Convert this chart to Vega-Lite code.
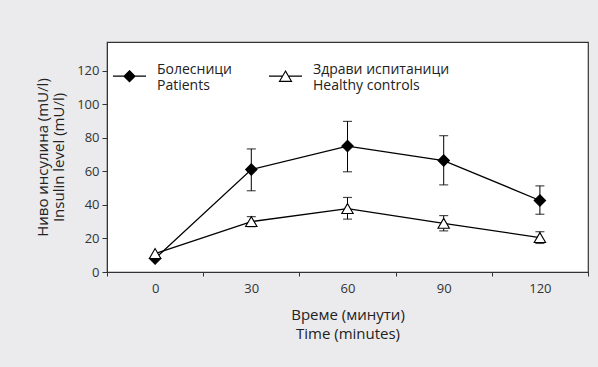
{
  "$schema": "https://vega.github.io/schema/vega-lite/v6.json",
  "width": 481,
  "height": 230,
  "autosize": {"type": "none"},
  "padding": {"left": 107, "top": 42, "right": 10, "bottom": 95},
  "background": "#ebebed",
  "config": {
    "font": "Open Sans",
    "view": {"fill": "white", "stroke": "#333", "strokeWidth": 1.2},
    "axisY": {
      "tickSize": 5,
      "tickColor": "#333",
      "domainColor": "#333",
      "labelPadding": 3,
      "labelFontSize": 13,
      "labelColor": "#333",
      "titleFontSize": 15,
      "titleFontWeight": "normal",
      "titleColor": "#222",
      "titlePadding": 10,
      "titleLineHeight": 16,
      "grid": false
    },
    "legend": {
      "orient": "none",
      "legendX": 5,
      "legendY": 10,
      "direction": "horizontal",
      "padding": 0,
      "symbolSize": 1089,
      "symbolStrokeWidth": 1.2,
      "symbolOpacity": 1,
      "labelFontSize": 14,
      "labelColor": "#222",
      "labelLineHeight": 16,
      "labelOffset": 10,
      "columnPadding": 34,
      "labelLimit": 300
    }
  },
  "data": {
    "values": [
      {"group": "Patients", "time": 0, "mean": 8, "lo": null, "hi": null},
      {"group": "Patients", "time": 30, "mean": 61, "lo": 48.4, "hi": 73.3},
      {"group": "Patients", "time": 60, "mean": 75, "lo": 59.7, "hi": 89.7},
      {"group": "Patients", "time": 90, "mean": 66.4, "lo": 51.9, "hi": 81.2},
      {"group": "Patients", "time": 120, "mean": 42.6, "lo": 34.4, "hi": 51.3},
      {"group": "Controls", "time": 0, "mean": 11, "lo": null, "hi": null},
      {"group": "Controls", "time": 30, "mean": 30, "lo": 27, "hi": 33},
      {"group": "Controls", "time": 60, "mean": 37.8, "lo": 31.5, "hi": 44.4},
      {"group": "Controls", "time": 90, "mean": 29, "lo": 24.5, "hi": 33.6},
      {"group": "Controls", "time": 120, "mean": 20.5, "lo": 17, "hi": 24}
    ]
  },
  "encoding": {
    "x": {
      "field": "time",
      "type": "ordinal",
      "scale": {"type": "band", "domain": [0, 30, 60, 90, 120], "paddingInner": 0, "paddingOuter": 0},
      "axis": {
        "title": ["Време (минути)", "Time (minutes)"],
        "labelAngle": 0,
        "tickBand": "extent",
        "tickSize": 4,
        "tickColor": "#333",
        "domainColor": "#333",
        "labelFontSize": 13,
        "labelColor": "#333",
        "labelPadding": 6,
        "titleFontSize": 15,
        "titleFontWeight": "normal",
        "titleColor": "#222",
        "titlePadding": 12,
        "titleLineHeight": 19,
        "grid": false
      }
    }
  },
  "resolve": {"scale": {"shape": "independent", "fill": "independent", "stroke": "independent"}},
  "layer": [
    {
      "mark": {"type": "line", "color": "black", "strokeWidth": 1.3},
      "encoding": {
        "y": {
          "field": "mean",
          "type": "quantitative",
          "scale": {"domain": [0, 137], "nice": false},
          "axis": {"title": ["Ниво инсулина (mU/l)", "Insulin level (mU/l)"], "values": [0, 20, 40, 60, 80, 100, 120], "labelOverlap": false}
        },
        "detail": {"field": "group"}
      }
    },
    {
      "mark": {"type": "rule", "color": "black", "strokeWidth": 1},
      "encoding": {
        "y": {"field": "lo", "type": "quantitative", "axis": {"title": ["Ниво инсулина (mU/l)", "Insulin level (mU/l)"], "values": [0, 20, 40, 60, 80, 100, 120], "labelOverlap": false}},
        "y2": {"field": "hi"}
      }
    },
    {
      "mark": {"type": "tick", "color": "black", "size": 9, "thickness": 1.2},
      "encoding": {
        "y": {"field": "lo", "type": "quantitative", "axis": {"title": ["Ниво инсулина (mU/l)", "Insulin level (mU/l)"], "values": [0, 20, 40, 60, 80, 100, 120], "labelOverlap": false}}
      }
    },
    {
      "mark": {"type": "tick", "color": "black", "size": 9, "thickness": 1.2},
      "encoding": {
        "y": {"field": "hi", "type": "quantitative", "axis": {"title": ["Ниво инсулина (mU/l)", "Insulin level (mU/l)"], "values": [0, 20, 40, 60, 80, 100, 120], "labelOverlap": false}}
      }
    },
    {
      "mark": {"type": "point", "filled": true, "size": 130, "stroke": "black", "strokeWidth": 1.1, "opacity": 1},
      "encoding": {
        "y": {"field": "mean", "type": "quantitative", "axis": {"title": ["Ниво инсулина (mU/l)", "Insulin level (mU/l)"], "values": [0, 20, 40, 60, 80, 100, 120], "labelOverlap": false}},
        "shape": {
          "field": "group",
          "type": "nominal",
          "scale": {"domain": ["Patients", "Controls"], "range": ["diamond", "triangle-up"]},
          "legend": null
        },
        "fill": {
          "field": "group",
          "type": "nominal",
          "scale": {"domain": ["Patients", "Controls"], "range": ["black", "white"]},
          "legend": null
        }
      }
    },
    {
      "mark": {"type": "point", "filled": true, "size": 130, "opacity": 0},
      "encoding": {
        "y": {"field": "mean", "type": "quantitative", "axis": {"title": ["Ниво инсулина (mU/l)", "Insulin level (mU/l)"], "values": [0, 20, 40, 60, 80, 100, 120], "labelOverlap": false}},
        "shape": {
          "field": "group",
          "type": "nominal",
          "scale": {"domain": ["Patients", "Controls"], "range": ["M-1,0.39H1M0,0.06L0.33,0.39L0,0.72L-0.33,0.39Z", "M-1,0.39H-0.18M0.18,0.39H1M0,0.08L0.36,0.7L-0.36,0.7Z"]},
          "legend": {"title": null, "labelExpr": "datum.value == 'Patients' ? ['Болесници','Patients'] : ['Здрави испитаници','Healthy controls']"}
        },
        "fill": {
          "field": "group",
          "type": "nominal",
          "scale": {"domain": ["Patients", "Controls"], "range": ["black", "white"]},
          "legend": {"title": null, "labelExpr": "datum.value == 'Patients' ? ['Болесници','Patients'] : ['Здрави испитаници','Healthy controls']"}
        },
        "stroke": {
          "field": "group",
          "type": "nominal",
          "scale": {"domain": ["Patients", "Controls"], "range": ["black", "black"]},
          "legend": {"title": null, "labelExpr": "datum.value == 'Patients' ? ['Болесници','Patients'] : ['Здрави испитаници','Healthy controls']"}
        }
      }
    }
  ]
}
